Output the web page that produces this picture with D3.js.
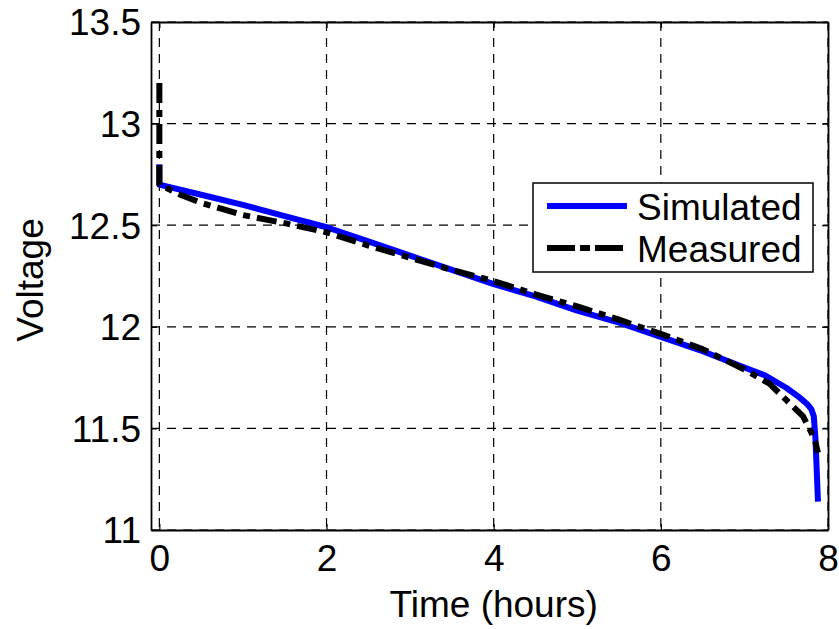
<!DOCTYPE html>
<html>
<head>
<meta charset="utf-8">
<script src="https://cdn.jsdelivr.net/npm/d3@7"></script>
<style>
  body { margin: 0; background: #fff; }
  svg { font-family: "Liberation Sans", Arial, sans-serif; }
  .grid line { stroke: #000; stroke-width: 1.2; stroke-dasharray: 9,7; }
  .tick text { font-size: 37px; fill: #000; }
</style>
</head>
<body>
<div class="graph"></div>
<script>
var width = 839,
    height = 629;

var margin = { top: 22, right: 11, bottom: 99, left: 151 };

// hours / volts
var simTime = [0, 0, 0.5, 1, 1.5, 2, 2.5, 3, 3.5, 4, 4.5, 5, 5.5, 6, 6.5, 7, 7.25, 7.5, 7.65, 7.75, 7.8, 7.83, 7.85, 7.88];
var simVolt = [12.80, 12.70, 12.65, 12.60, 12.545, 12.49, 12.42, 12.35, 12.28, 12.21, 12.15, 12.08, 12.02, 11.95, 11.88, 11.80, 11.76, 11.70, 11.655, 11.62, 11.595, 11.56, 11.45, 11.14];

var measTime = [0, 0, 0, 0.25, 0.5, 0.75, 1, 1.5, 2, 2.5, 3, 3.5, 4, 4.5, 5, 5.5, 6, 6.5, 7, 7.3, 7.5, 7.7, 7.8, 7.85, 7.88];
var measVolt = [13.20, 12.85, 12.70, 12.65, 12.61, 12.58, 12.55, 12.51, 12.465, 12.40, 12.34, 12.28, 12.225, 12.16, 12.10, 12.035, 11.965, 11.89, 11.79, 11.72, 11.64, 11.56, 11.48, 11.43, 11.38];

var xTicks = [0, 2, 4, 6, 8];
var yTicks = [11, 11.5, 12, 12.5, 13, 13.5];

var series = [
    { name: "Simulated", color: "#0000ff", dash: null, legendDash: null, time: simTime, volt: simVolt },
    { name: "Measured", color: "#000", dash: "20,7,7,7", legendDash: "28,5,10,5", time: measTime, volt: measVolt }
];

var svg = d3.select('.graph').append("svg")
    .attr("width", width)
    .attr("height", height);

var innerW = width - margin.left - margin.right,
    innerH = height - margin.top - margin.bottom;

var x = d3.scaleLinear().domain([-0.1, 8]).range([0, innerW]);
var y = d3.scaleLinear().domain([11, 13.5]).range([innerH, 0]);

var g = svg.append("g")
    .attr("transform", "translate(" + margin.left + "," + margin.top + ")");

// grid
var grid = g.append("g").attr("class", "grid");
grid.selectAll(".gx")
    .data(xTicks)
    .enter().append("line")
    .attr("x1", function(d) { return x(d); })
    .attr("x2", function(d) { return x(d); })
    .attr("y1", 0)
    .attr("y2", innerH);
grid.selectAll(".gy")
    .data(yTicks)
    .enter().append("line")
    .attr("x1", 0)
    .attr("x2", innerW)
    .attr("y1", function(d) { return y(d); })
    .attr("y2", function(d) { return y(d); });

// lines
var line = function(s) {
    return d3.line()
        .x(function(d, i) { return x(s.time[i]); })
        .y(function(d) { return y(d); })
        .curve(d3.curveMonotoneX)(s.volt);
};
var lineStraight = function(s) {
    return d3.line()
        .x(function(d, i) { return x(s.time[i]); })
        .y(function(d) { return y(d); })(s.volt);
};

g.selectAll(".series")
    .data(series)
    .enter().append("path")
    .attr("class", "series")
    .attr("fill", "none")
    .attr("stroke", function(d) { return d.color; })
    .attr("stroke-width", 6)
    .attr("stroke-linejoin", "round")
    .attr("stroke-dasharray", function(d) { return d.dash; })
    .attr("d", function(d) { return lineStraight(d); });

// axes
var xAxis = g.append("g")
    .attr("transform", "translate(0," + innerH + ")")
    .call(d3.axisBottom(x).tickValues(xTicks).tickSizeInner(-6).tickSizeOuter(0).tickPadding(15));
var yAxis = g.append("g")
    .call(d3.axisLeft(y).tickValues(yTicks).tickSizeInner(-6).tickSizeOuter(0).tickPadding(10)
        .tickFormat(function(d) { return d; }));
g.append("g")
    .call(d3.axisTop(x).tickValues(xTicks).tickSizeInner(-6).tickSizeOuter(0).tickFormat(""));
g.append("g")
    .attr("transform", "translate(" + innerW + ",0)")
    .call(d3.axisRight(y).tickValues(yTicks).tickSizeInner(-6).tickSizeOuter(0).tickFormat(""));

g.selectAll(".domain").attr("stroke", "#000").attr("stroke-width", 1.8);
g.selectAll(".tick line").attr("stroke", "#000").attr("stroke-width", 1.2);
xAxis.selectAll("text").attr("dy", "0.71em");
yAxis.selectAll("text").attr("dy", "0.35em");

// axis titles
svg.append("text")
    .attr("x", margin.left + x(4))
    .attr("y", 617)
    .attr("text-anchor", "middle")
    .style("font-size", "37px")
    .text("Time (hours)");

svg.append("text")
    .attr("transform", "translate(43,280) rotate(-90)")
    .attr("text-anchor", "middle")
    .style("font-size", "37px")
    .text("Voltage");

// legend
var legend = svg.append("g")
    .attr("transform", "translate(533,183)");
legend.append("rect")
    .attr("width", 280)
    .attr("height", 89)
    .attr("fill", "#fff")
    .attr("stroke", "#000")
    .attr("stroke-width", 1.5);

var item = legend.selectAll(".item")
    .data(series)
    .enter().append("g")
    .attr("transform", function(d, i) { return "translate(0," + (23 + i * 42) + ")"; });
item.append("line")
    .attr("x1", 14)
    .attr("x2", 94)
    .attr("stroke", function(d) { return d.color; })
    .attr("stroke-width", 6)
    .attr("stroke-dasharray", function(d) { return d.legendDash; });
item.append("text")
    .attr("x", 104)
    .attr("y", 14)
    .style("font-size", "37px")
    .text(function(d) { return d.name; });
</script>
</body>
</html>
